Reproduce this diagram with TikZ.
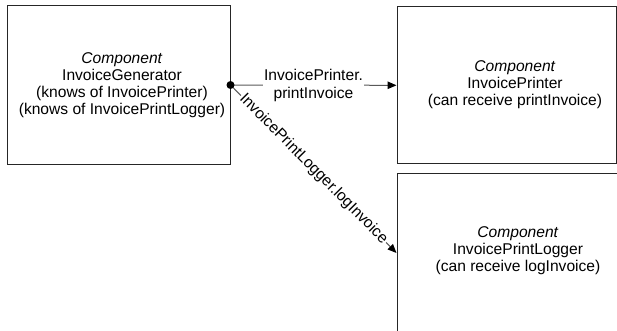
\documentclass[tikz,border=0pt]{standalone}
\usepackage{fontspec}
\setmainfont{Liberation Sans}
\usetikzlibrary{arrows.meta}
\begin{document}
\begin{tikzpicture}[x=1pt,y=-1pt,
  box/.style={draw=black!85, line width=1pt, inner sep=0pt},
  txt/.style={align=center, inner sep=0pt, font=\fontsize{15.6}{17}\selectfont},
  conn/.style={draw=black!65, line width=1pt, -{Triangle[length=9pt,width=7.5pt,black]}},
  lbl/.style={fill=white, align=center, inner sep=1.2pt, font=\fontsize{15.6}{18}\selectfont}]
\useasboundingbox (0,0) rectangle (617,331);
\clip (0,0) rectangle (617,331);
\node[box, minimum width=223pt, minimum height=158pt] (lbox) at (118.5,85) {};
\node[box, minimum width=219pt, minimum height=157pt] (pbox) at (506.5,85.3) {};
\node[box, minimum width=243pt, minimum height=160pt] (gbox) at (518.5,253) {};
\node[txt] (ltext) at (122,85.5) {\textit{Component}\\InvoiceGenerator\\(knows of InvoicePrinter)\\(knows of InvoicePrintLogger)};
\node[txt] (ptext) at (515,85) {\textit{Component}\\InvoicePrinter\\(can receive printInvoice)};
\node[txt] (gtext) at (518,251) {\textit{Component}\\InvoicePrintLogger\\(can receive logInvoice)};
\coordinate (dot) at (lbox.east);
\draw[conn] (dot) -- node[lbl] (l1) {InvoicePrinter.\\printInvoice} (pbox.west);
\draw[conn] (dot) -- node[lbl, sloped] (l2) {InvoicePrintLogger.logInvoice} (gbox.west);
\fill (dot) circle (4pt);
\end{tikzpicture}
\end{document}
